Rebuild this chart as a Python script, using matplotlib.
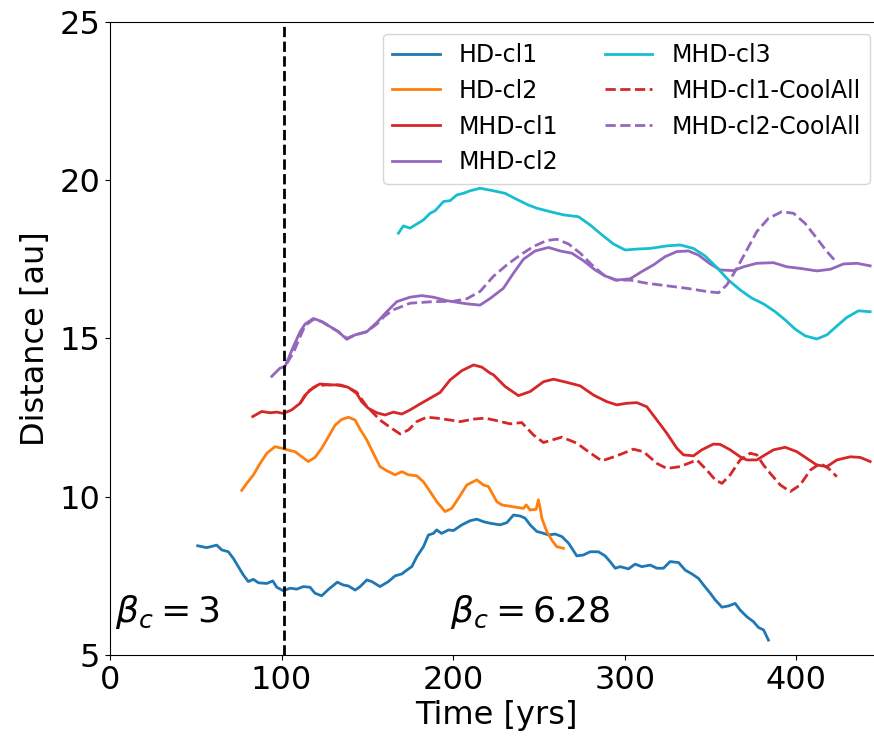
import matplotlib
matplotlib.use("Agg")
import matplotlib.pyplot as plt

# HD-cl1
t_hd1 = [51.1, 56.4, 62.2, 65.1, 69.0, 71.9, 74.8, 77.7, 80.6, 83.6, 86.5, 91.4, 94.9, 97.2,
         101.0, 105.0, 108.8, 112.7, 116.6, 119.5, 123.4, 127.3, 132.5, 136.0, 139.0, 142.9,
         145.8, 149.7, 152.6, 157.4, 162.3, 166.2, 170.1, 173.0, 175.9, 178.8, 182.7, 185.6,
         188.5, 190.4, 193.3, 197.3, 200.2, 205.1, 209.9, 213.8, 217.7, 221.6, 227.4, 231.3,
         235.2, 239.1, 242.0, 244.9, 248.8, 251.7, 255.6, 259.5, 263.4, 267.3, 272.1, 276.0,
         279.9, 284.7, 288.6, 291.5, 294.5, 297.4, 302.2, 306.1, 310.0, 314.9, 318.8, 322.6,
         326.5, 331.4, 335.3, 339.2, 343.0, 346.0, 349.9, 352.8, 356.7, 360.6, 364.4, 367.3,
         371.2, 375.1, 378.0, 381.0, 383.8]
d_hd1 = [8.45, 8.39, 8.47, 8.32, 8.26, 8.05, 7.79, 7.53, 7.32, 7.39, 7.28, 7.26, 7.34, 7.14,
         7.03, 7.11, 7.08, 7.16, 7.14, 6.95, 6.87, 7.07, 7.30, 7.21, 7.18, 7.05,
         7.16, 7.37, 7.32, 7.16, 7.32, 7.50, 7.56, 7.68, 7.79, 8.10, 8.42, 8.79,
         8.84, 8.95, 8.84, 8.95, 8.93, 9.11, 9.24, 9.29, 9.21, 9.16, 9.11, 9.18,
         9.42, 9.39, 9.32, 9.11, 8.90, 8.86, 8.79, 8.82, 8.74, 8.53, 8.13, 8.16,
         8.26, 8.26, 8.13, 7.95, 7.74, 7.79, 7.72, 7.87, 7.79, 7.84, 7.74, 7.74,
         7.95, 7.92, 7.68, 7.56, 7.42, 7.21, 6.95, 6.74, 6.51, 6.55, 6.63, 6.42,
         6.21, 6.05, 5.87, 5.79, 5.47]

# HD-cl2
t_hd2 = [76.8, 79.7, 83.6, 87.5, 91.4, 96.2, 100.1, 104.0, 107.9, 111.8, 115.6, 119.5, 123.4,
         127.3, 131.2, 135.1, 139.0, 142.9, 145.8, 149.7, 153.5, 157.4, 161.3, 166.2, 170.1,
         174.0, 178.8, 182.7, 186.6, 190.5, 195.3, 199.2, 203.1, 208.0, 213.8, 217.7, 220.6,
         225.5, 228.4, 235.1, 241.0, 242.6, 244.9, 248.4, 249.7, 251.1, 251.7, 254.6, 257.5,
         260.4, 264.3]
d_hd2 = [10.20, 10.42, 10.69, 11.05, 11.37, 11.58, 11.53, 11.47, 11.42, 11.26, 11.11, 11.24, 11.53,
         11.89, 12.26, 12.44, 12.51, 12.42, 12.13, 11.79, 11.37, 10.95, 10.82, 10.69, 10.79,
         10.69, 10.66, 10.47, 10.16, 9.84, 9.53, 9.63, 9.95, 10.37, 10.53, 10.37, 10.32,
         9.84, 9.74, 9.68, 9.63, 9.74, 9.58, 9.60, 9.90, 9.53, 9.32, 8.90, 8.63,
         8.42, 8.37]

# MHD-cl1
t_m1 = [83.2, 88.4, 93.3, 97.2, 101.1, 105.9, 110.8, 114.7, 118.6, 122.4, 128.3, 134.1, 139.0,
        143.8, 146.7, 150.6, 155.5, 160.3, 165.2, 170.1, 174.9, 180.8, 186.6, 192.4, 198.3,
        205.1, 211.9, 216.8, 221.6, 223.5, 230.3, 238.1, 244.9, 252.7, 258.5, 266.3, 274.1,
        281.8, 289.6, 295.4, 301.3, 307.1, 312.9, 318.8, 324.6, 330.4, 334.3, 340.1, 345.0,
        351.7, 355.7, 361.5, 367.3, 371.2, 377.0, 380.9, 386.8, 393.6, 400.4, 406.2, 412.0,
        417.9, 423.7, 431.5, 437.3, 443.1]
d_m1 = [12.53, 12.69, 12.65, 12.67, 12.63, 12.74, 12.95, 13.26, 13.45, 13.56, 13.53, 13.53, 13.45,
        13.26, 13.00, 12.79, 12.65, 12.58, 12.67, 12.61, 12.74, 12.93, 13.11, 13.29, 13.69,
        13.98, 14.16, 14.09, 13.90, 13.85, 13.48, 13.19, 13.32, 13.63, 13.71, 13.61, 13.50,
        13.21, 13.00, 12.90, 12.95, 12.97, 12.84, 12.42, 12.00, 11.53, 11.32, 11.29, 11.48,
        11.66, 11.65, 11.48, 11.26, 11.16, 11.16, 11.29, 11.48, 11.56, 11.42, 11.21, 11.00,
        10.95, 11.16, 11.26, 11.24, 11.11]

# MHD-cl2
t_m2 = [94.3, 99.1, 102.0, 106.9, 110.8, 113.7, 118.6, 123.4, 128.3, 133.1, 138.0, 142.9, 149.7,
        155.5, 161.3, 167.2, 174.9, 181.7, 188.5, 196.3, 208.0, 215.7, 221.6, 229.3, 235.2,
        241.0, 247.8, 255.6, 262.4, 269.2, 276.0, 282.8, 288.6, 295.4, 303.2, 310.0, 316.8,
        323.6, 330.4, 337.2, 343.0, 349.9, 355.7, 363.4, 369.3, 377.0, 386.7, 394.5, 402.3,
        412.0, 419.8, 427.6, 435.4, 443.1]
d_m2 = [13.80, 14.06, 14.11, 14.74, 15.21, 15.45, 15.63, 15.53, 15.37, 15.21, 14.97, 15.11, 15.21,
        15.50, 15.84, 16.16, 16.30, 16.35, 16.30, 16.19, 16.09, 16.05, 16.26, 16.58, 17.06,
        17.50, 17.76, 17.87, 17.76, 17.69, 17.45, 17.16, 16.97, 16.84, 16.88, 17.11, 17.32,
        17.58, 17.74, 17.76, 17.63, 17.35, 17.16, 17.14, 17.26, 17.37, 17.39, 17.26, 17.21,
        17.13, 17.18, 17.35, 17.37, 17.29]

# MHD-cl3
t_m3 = [168.1, 171.0, 174.9, 178.8, 182.7, 186.6, 189.5, 194.4, 198.3, 202.2, 206.0, 209.9, 215.7,
        220.6, 223.5, 230.3, 237.1, 243.9, 248.8, 256.6, 264.3, 273.1, 279.9, 286.7, 293.5,
        300.3, 307.1, 314.9, 324.6, 332.4, 340.1, 346.9, 353.7, 360.5, 367.3, 374.1, 380.9,
        387.8, 393.6, 399.4, 405.2, 412.0, 417.9, 423.7, 429.5, 436.3, 443.1]
d_m3 = [18.32, 18.55, 18.48, 18.61, 18.74, 18.95, 19.03, 19.32, 19.35, 19.53, 19.58, 19.66, 19.74,
        19.69, 19.66, 19.58, 19.39, 19.21, 19.11, 19.00, 18.90, 18.84, 18.58, 18.27, 17.98,
        17.79, 17.82, 17.84, 17.92, 17.95, 17.84, 17.60, 17.24, 16.84, 16.53, 16.27, 16.09,
        15.84, 15.58, 15.29, 15.08, 14.98, 15.11, 15.39, 15.66, 15.87, 15.84]

# MHD-cl1-CoolAll
t_m1c = [110.8, 114.7, 120.5, 126.0, 132.0, 138.0, 143.8, 149.7, 157.4, 163.3, 169.1, 174.0,
         178.8, 184.6, 190.5, 198.3, 204.1, 211.9, 218.7, 225.5, 233.2, 240.0, 246.8, 252.7,
         263.4, 272.1, 278.9, 286.7, 295.4, 305.1, 311.0, 318.8, 324.6, 332.4, 342.1, 347.9,
         352.8, 356.7, 361.5, 367.3, 373.2, 377.0, 380.9, 384.8, 390.7, 396.5, 402.3, 408.2,
         414.0, 418.9, 423.7]
d_m1c = [12.95, 13.30, 13.50, 13.53, 13.53, 13.47, 13.30, 12.85, 12.42, 12.19, 11.98, 12.11,
         12.37, 12.51, 12.48, 12.42, 12.37, 12.45, 12.48, 12.40, 12.30, 12.34, 11.95, 11.71,
         11.88, 11.69, 11.42, 11.13, 11.29, 11.50, 11.42, 11.05, 10.89, 10.95, 11.16, 10.84,
         10.53, 10.42, 10.69, 11.16, 11.37, 11.32, 11.00, 10.74, 10.37, 10.16, 10.37, 10.84,
         11.05, 10.89, 10.63]

# MHD-cl2-CoolAll
t_m2c = [103.0, 106.9, 110.8, 113.7, 118.6, 123.4, 128.3, 133.1, 138.0, 142.9, 149.7, 155.5,
         160.0, 165.2, 174.9, 188.5, 200.0, 208.0, 215.7, 223.5, 231.3, 239.1, 246.8, 254.6,
         260.4, 267.3, 274.1, 280.9, 287.6, 294.5, 303.2, 312.9, 324.6, 336.3, 347.9, 354.7,
         359.6, 365.4, 371.2, 377.0, 383.8, 391.6, 398.4, 405.2, 412.0, 417.9, 423.7]
d_m2c = [14.20, 14.55, 15.05, 15.40, 15.60, 15.53, 15.37, 15.21, 15.00, 15.11, 15.21, 15.45,
         15.70, 15.90, 16.11, 16.16, 16.17, 16.25, 16.48, 16.96, 17.32, 17.63, 17.90, 18.09,
         18.13, 17.98, 17.69, 17.32, 17.01, 16.84, 16.84, 16.74, 16.66, 16.58, 16.48, 16.44,
         16.69, 17.21, 17.79, 18.37, 18.79, 19.00, 18.95, 18.63, 18.16, 17.74, 17.39]

t_switch = 101.5  # beta_c change

fig = plt.figure(figsize=(8.74, 7.43), dpi=100)
# axes reach a little past the right edge of the picture, as in the original
ax = fig.add_axes([110/874, 1 - 655/743, (882 - 110)/874, (655 - 21.7)/743])

lw = 2
ax.plot(t_hd1, d_hd1, color='#1f77b4', lw=lw, label='HD-cl1')
ax.plot(t_hd2, d_hd2, color='#ff7f0e', lw=lw, label='HD-cl2')
ax.plot(t_m1, d_m1, color='#d62728', lw=lw, label='MHD-cl1')
ax.plot(t_m2, d_m2, color='#9467bd', lw=lw, label='MHD-cl2')
ax.plot(t_m3, d_m3, color='#17becf', lw=lw, label='MHD-cl3')
ax.plot(t_m1c, d_m1c, color='#d62728', lw=lw, ls='--', label='MHD-cl1-CoolAll')
ax.plot(t_m2c, d_m2c, color='#9467bd', lw=lw, ls='--', label='MHD-cl2-CoolAll')

ax.axvline(t_switch, color='k', ls='--', lw=2)

ax.text(3, 6.05, r'$\beta_c = 3$', fontsize=26)
ax.text(198, 6.05, r'$\beta_c = 6.28$', fontsize=26)

ax.set_xlim(0, 450)
ax.set_ylim(5, 25)
ax.set_xticks([0, 100, 200, 300, 400])
ax.set_yticks([5, 10, 15, 20, 25])
ax.tick_params(labelsize=23)
ax.set_xlabel('Time [yrs]', fontsize=23, labelpad=3)
ax.set_ylabel('Distance [au]', fontsize=23, labelpad=6)

ax.legend(loc='upper right', ncol=2, fontsize=17)

fig.savefig('out.png', dpi=100)
